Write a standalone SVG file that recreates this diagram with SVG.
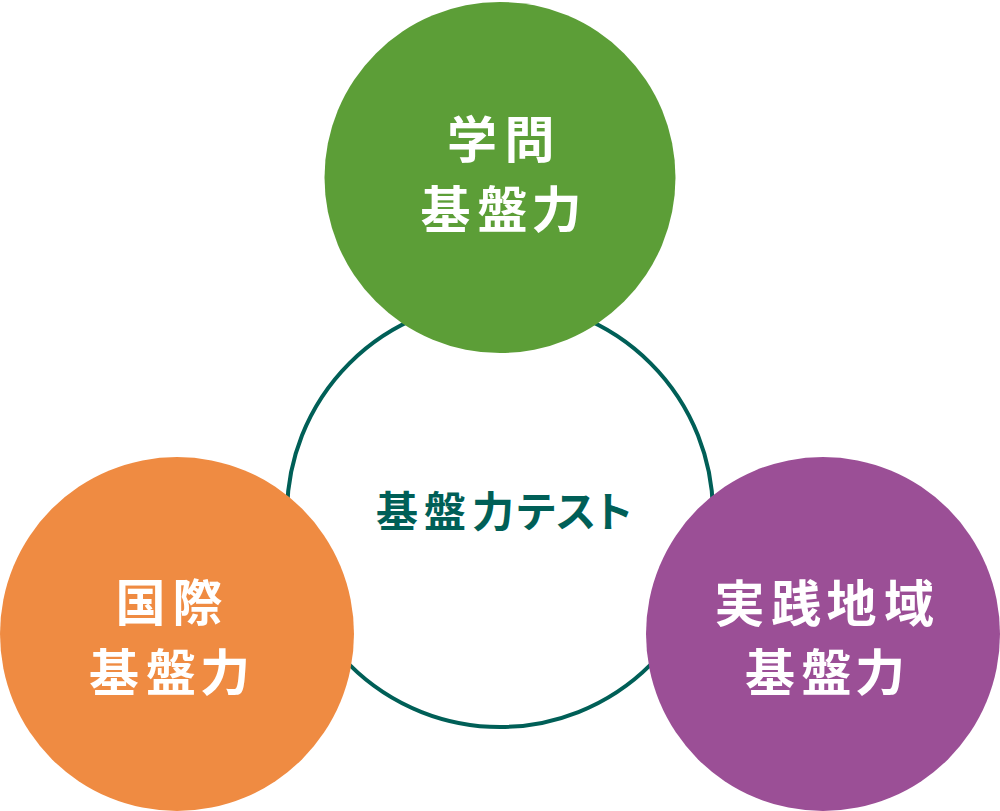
<svg xmlns="http://www.w3.org/2000/svg" width="1000" height="811" viewBox="0 0 1000 811">
<style>
.lbl{font-family:"Noto Sans CJK JP","Noto Sans CJK SC",sans-serif;font-weight:700;text-anchor:middle;}
.w{fill:#ffffff;font-size:50px;}
.c{fill:#005f57;font-size:42px;}
</style>
<rect width="1000" height="811" fill="#ffffff"/>
<g id="center">
<circle cx="500" cy="514" r="213" fill="#ffffff" stroke="#005f57" stroke-width="4"/>
<text class="lbl c" x="397 445 493 536 575.5 613" y="527">基盤力テスト</text>
</g>
<g id="gakumon">
<circle cx="500" cy="177.5" r="175.5" fill="#5c9e37"/>
<text class="lbl w" x="472 529.5" y="158">学問</text>
<text class="lbl w" x="445.5 502.5 556.5" y="228">基盤力</text>
</g>
<g id="kokusai">
<circle cx="177" cy="634" r="177" fill="#ef8b42"/>
<text class="lbl w" x="140.5 197.5" y="620.5">国際</text>
<text class="lbl w" x="114 171 225" y="691">基盤力</text>
</g>
<g id="jissen">
<circle cx="823" cy="634" r="177" fill="#9b4f96"/>
<text class="lbl w" x="739.5 796 851.5 909" y="622">実践地域</text>
<text class="lbl w" x="770 826.5 880" y="691">基盤力</text>
</g>
</svg>
